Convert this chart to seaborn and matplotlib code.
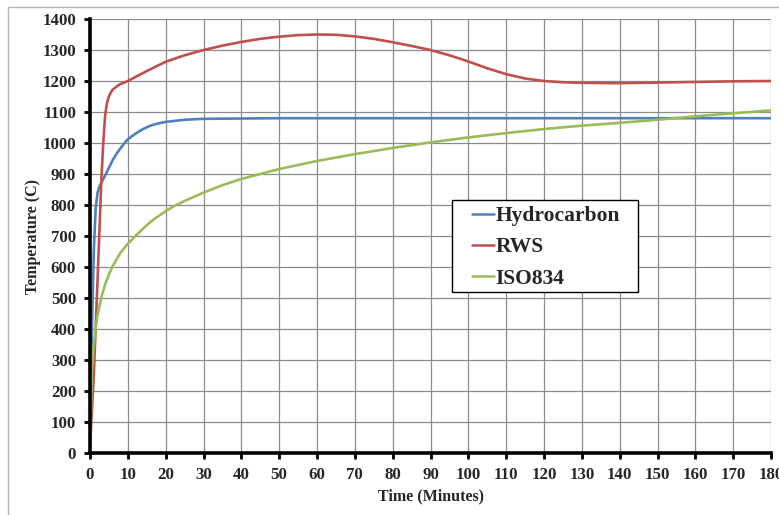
import numpy as np
import pandas as pd
import matplotlib
matplotlib.use("Agg")
import matplotlib.pyplot as plt
import seaborn as sns
from matplotlib.patches import Rectangle

# values (time in minutes, temperature in C)
hc_time = [0, 0.5, 1, 1.5, 2, 2.5, 3, 4, 5, 6, 7, 8, 9, 10, 12, 14, 16, 18, 20, 25, 30, 40, 50, 60,
           90, 120, 150, 180]
hc_temp = [20, 400, 650, 790, 840, 860, 872, 895, 920, 945, 965, 982, 998, 1012, 1030, 1045, 1056, 1063,
           1068, 1075, 1078, 1079, 1080, 1080, 1080, 1080, 1080, 1080]

rws_time = [0, 1, 2, 3, 3.5, 4, 4.5, 5, 5.5, 6, 7, 8, 9, 10, 12, 15, 20, 25, 30, 35, 40, 45, 50, 55, 60,
            65, 70, 75, 80, 85, 90, 95, 100, 105, 110, 115, 120, 125, 130, 140, 150, 160, 170, 180]
rws_temp = [20, 250, 560, 880, 1000, 1090, 1130, 1150, 1163, 1172, 1182, 1190, 1195, 1200, 1213, 1232,
            1262, 1283, 1300, 1314, 1326, 1336, 1343, 1348, 1350, 1349, 1344, 1336, 1325, 1313, 1300,
            1283, 1263, 1241, 1222, 1208, 1200, 1196, 1194, 1193, 1195, 1197, 1199, 1200]

iso_time = [0, 0.5, 1, 1.5, 2, 3, 4, 5, 6, 8, 10, 12, 15, 17, 20, 22, 25, 30, 35, 40, 50, 60, 70, 80, 90,
            100, 110, 120, 130, 140, 150, 160, 170, 180]
iso_temp = [20, 261, 349, 404, 445, 502, 544, 576, 603, 645, 675, 700, 735, 755, 780, 795, 813, 840, 864,
            884, 916, 942, 964, 984, 1002, 1018, 1032, 1045, 1056, 1065, 1075, 1086, 1096, 1105]

series = ["Hydrocarbon", "RWS", "ISO834"]
colors = ["#4F81BD", "#C0504D", "#9BBB59"]

df = pd.concat([
    pd.DataFrame({"time": hc_time, "temp": hc_temp, "curve": "Hydrocarbon"}),
    pd.DataFrame({"time": rws_time, "temp": rws_temp, "curve": "RWS"}),
    pd.DataFrame({"time": iso_time, "temp": iso_temp, "curve": "ISO834"}),
])

sns.set_style("white")
plt.rcParams["font.family"] = ["Liberation Serif", "DejaVu Serif"]
plt.rcParams["font.weight"] = "bold"

fig = plt.figure(figsize=(7.79, 5.15), dpi=100)
ax = fig.add_axes([90 / 779, 62 / 515, 681 / 779, 434 / 515])

# light gray outer frame
fig.patches.append(Rectangle((8 / 779, -0.05), 1.2, (515 - 7) / 515 + 0.05,
                             transform=fig.transFigure, fill=False,
                             edgecolor="#b4b4b4", linewidth=1.0))

sns.lineplot(data=df, x="time", y="temp", hue="curve", hue_order=series,
             palette=colors, linewidth=1.9, sort=False, ax=ax, legend=True)

ax.set_xlim(0, 180)
ax.set_ylim(0, 1400)
ax.set_xticks(np.arange(0, 181, 10))
ax.set_yticks(np.arange(0, 1401, 100))
ax.grid(True, color="#8c8c8c", linewidth=0.9)
ax.set_axisbelow(True)

for side in ["top", "right"]:
    ax.spines[side].set_visible(False)
for side in ["left", "bottom"]:
    ax.spines[side].set_linewidth(2.6)
    ax.spines[side].set_color("black")
    ax.spines[side].set_zorder(5)

ax.tick_params(axis="both", direction="out", length=4, width=2, color="black",
               labelsize=12.2, bottom=True, left=True)
ax.tick_params(axis="y", pad=6)
ax.tick_params(axis="x", pad=6)
for lab in ax.get_xticklabels() + ax.get_yticklabels():
    lab.set_fontweight("bold")

ax.set_xlabel("Time (Minutes)", fontsize=11.5, fontweight="bold", labelpad=4)
ax.set_ylabel("Temperature (C)", fontsize=11.5, fontweight="bold", labelpad=1)

# legend box drawn separately so the padding matches the reference
ax.add_patch(Rectangle((362 / 681, (453 - 292) / 434), 186 / 681, 92 / 434,
                       transform=ax.transAxes, facecolor="white",
                       edgecolor="black", linewidth=1.0, zorder=6))
leg = ax.legend(loc="upper left", bbox_to_anchor=(382 / 681, (453 - 206) / 434),
                frameon=False,
                prop={"family": "Liberation Serif", "weight": "bold", "size": 15.5},
                handlelength=1.0, handletextpad=0.1, labelspacing=0.52,
                borderpad=0, borderaxespad=0)
leg.set_zorder(7)
for line in leg.get_lines():
    line.set_linewidth(1.8)

fig.savefig("out.png", dpi=100)
plt.close(fig)
